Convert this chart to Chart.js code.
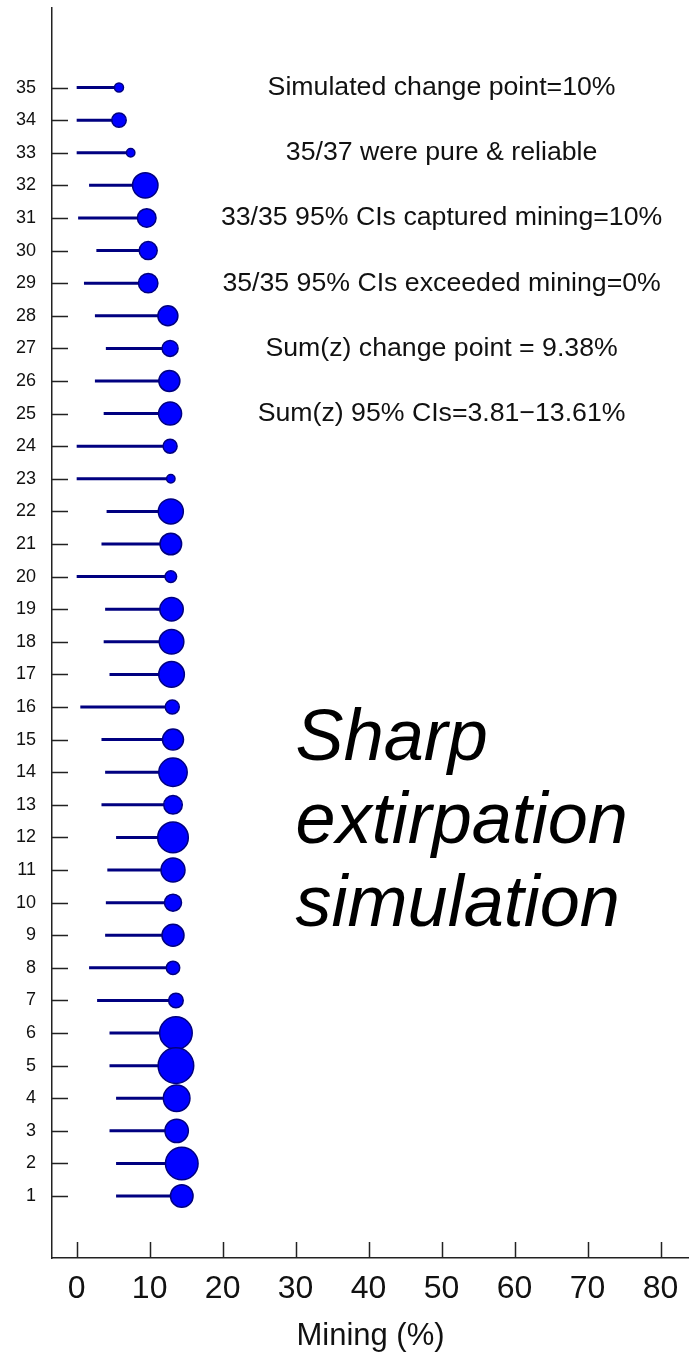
<!DOCTYPE html>
<html>
<head>
<meta charset="utf-8">
<script src="https://cdn.jsdelivr.net/npm/chart.js@4.4.1/dist/chart.umd.min.js"></script>
<style>
  html, body { margin: 0; padding: 0; background: #ffffff; }
  canvas { display: block; }
</style>
</head>
<body>
<canvas id="chart" width="689" height="1355"></canvas>
<script>
// Simulation runs, top (35) to bottom (1)
const runs = [35, 34, 33, 32, 31, 30, 29, 28, 27, 26, 25, 24, 23, 22, 21, 20, 19, 18,
              17, 16, 15, 14, 13, 12, 11, 10, 9, 8, 7, 6, 5, 4, 3, 2, 1];
// Estimated change point per run (% mining)
const estimate = [5.8, 5.8, 7.4, 9.4, 9.6, 9.8, 9.8, 12.5, 12.8, 12.7, 12.8, 12.8, 12.9, 12.9,
                  12.9, 12.9, 13.0, 13.0, 13.0, 13.1, 13.2, 13.2, 13.2, 13.2, 13.2, 13.2, 13.2,
                  13.2, 13.6, 13.6, 13.6, 13.7, 13.7, 14.4, 14.4];
// Lower 95% confidence bound per run (% mining)
const lowerCI = [0, 0, 0, 1.7, 0.2, 2.7, 1.0, 2.5, 4.0, 2.5, 3.7, 0, 0, 4.1, 3.4, 0, 3.9, 3.7,
                 4.5, 0.5, 3.4, 3.9, 3.4, 5.4, 4.2, 4.0, 3.9, 1.7, 2.8, 4.5, 4.5, 5.4, 4.5, 5.4, 5.4];
// Relative weight of each run's change point (drawn as symbol size)
const weight = [4.5, 7.2, 4.2, 12.7, 9.3, 9.0, 9.7, 10.0, 8.0, 10.5, 11.5, 7.0, 4.2, 12.5, 10.8,
                5.8, 11.7, 12.3, 12.8, 7.0, 10.5, 14.2, 9.3, 15.3, 12.0, 8.5, 11.0, 6.7, 7.3,
                16.3, 17.8, 13.3, 11.7, 16.3, 11.3];

const xTicks = [0, 10, 20, 30, 40, 50, 60, 70, 80];
const yTicks = [1, 2, 3, 4, 5, 6, 7, 8, 9, 10, 11, 12, 13, 14, 15, 16, 17, 18, 19, 20,
                21, 22, 23, 24, 25, 26, 27, 28, 29, 30, 31, 32, 33, 34, 35];

const notes = [
  'Simulated change point=10%',
  '35/37 were pure & reliable',
  '33/35 95% CIs captured mining=10%',
  '35/35 95% CIs exceeded mining=0%',
  'Sum(z) change point = 9.38%',
  'Sum(z) 95% CIs=3.81\u221213.61%'
];
const noteRows = [35, 33, 31, 29, 27, 25];
const noteX = 50;

const caption = ['Sharp', 'extirpation', 'simulation'];
const captionRows = [15, 12.45, 9.9];
const captionX = 30;

const FONT = '"Liberation Sans", Arial, Helvetica, sans-serif';
Chart.defaults.font.family = FONT;

// Whisker segments from lower bound to estimate, separated by gaps
const whiskers = [];
runs.forEach((r, i) => {
  whiskers.push({ x: lowerCI[i], y: r });
  whiskers.push({ x: estimate[i], y: r });
  whiskers.push({ x: estimate[i], y: null });
});

const points = runs.map((r, i) => ({ x: estimate[i], y: r, r: weight[i] }));

// Keep the plot area flush with the axes: no extra label padding
function fitAxis(size) {
  return s => {
    if (s.isHorizontal()) s.height = size; else s.width = size;
    s.paddingLeft = 0; s.paddingRight = 0; s.paddingTop = 0; s.paddingBottom = 0;
  };
}

// Inward tick marks plus the text blocks, placed through the chart scales
const decor = {
  id: 'decor',
  beforeDatasetsDraw(chart) {
    const { ctx, chartArea: a } = chart;
    const xs = chart.scales.x, ys = chart.scales.y;
    ctx.save();
    ctx.strokeStyle = '#222222';
    ctx.lineWidth = 1.5;
    ctx.beginPath();
    xTicks.forEach(v => {
      const px = Math.round(xs.getPixelForValue(v)) + 0.5;
      ctx.moveTo(px, a.bottom);
      ctx.lineTo(px, a.bottom - 16);
    });
    yTicks.forEach(v => {
      const py = Math.round(ys.getPixelForValue(v)) + 0.5;
      ctx.moveTo(a.left, py);
      ctx.lineTo(a.left + 16, py);
    });
    ctx.stroke();

    ctx.fillStyle = '#111111';
    ctx.textAlign = 'center';
    ctx.textBaseline = 'middle';
    ctx.font = '26.7px ' + FONT;
    notes.forEach((t, i) => {
      ctx.fillText(t, xs.getPixelForValue(noteX), ys.getPixelForValue(noteRows[i]));
    });

    ctx.fillStyle = '#000000';
    ctx.textAlign = 'left';
    ctx.font = 'italic 72px ' + FONT;
    caption.forEach((t, i) => {
      ctx.fillText(t, xs.getPixelForValue(captionX), ys.getPixelForValue(captionRows[i]));
    });
    ctx.restore();
  }
};

new Chart(document.getElementById('chart'), {
  type: 'scatter',
  data: {
    datasets: [
      {
        type: 'bubble',
        data: points,
        backgroundColor: '#0000ff',
        borderColor: '#000080',
        borderWidth: 1.5,
        order: 0
      },
      {
        type: 'scatter',
        data: whiskers,
        showLine: true,
        spanGaps: false,
        borderColor: '#000080',
        borderWidth: 3,
        pointRadius: 0,
        pointHoverRadius: 0,
        order: 1
      }
    ]
  },
  options: {
    responsive: false,
    animation: false,
    events: [],
    layout: { autoPadding: false, padding: { top: 8, right: 0, bottom: 0, left: 0 } },
    plugins: {
      legend: { display: false },
      tooltip: { enabled: false }
    },
    scales: {
      x: {
        type: 'linear',
        min: -3.38,
        max: 83.9,
        afterBuildTicks: s => { s.ticks = xTicks.map(v => ({ value: v })); },
        afterFit: fitAxis(97),
        grid: { display: false, drawTicks: false },
        border: { display: true, color: '#222222', width: 1.5 },
        ticks: { autoSkip: false, maxRotation: 0, color: '#111111', font: { size: 32 }, padding: 12 },
        title: { display: true, text: 'Mining (%)', color: '#111111', font: { size: 31 }, padding: 0 }
      },
      y: {
        type: 'linear',
        min: -0.9,
        max: 37.44,
        afterBuildTicks: s => { s.ticks = yTicks.map(v => ({ value: v })); },
        afterFit: fitAxis(52),
        grid: { display: false, drawTicks: false },
        border: { display: true, color: '#222222', width: 1.5 },
        ticks: { autoSkip: false, color: '#111111', font: { size: 18 }, padding: 16 }
      }
    }
  },
  plugins: [decor]
});
</script>
</body>
</html>
